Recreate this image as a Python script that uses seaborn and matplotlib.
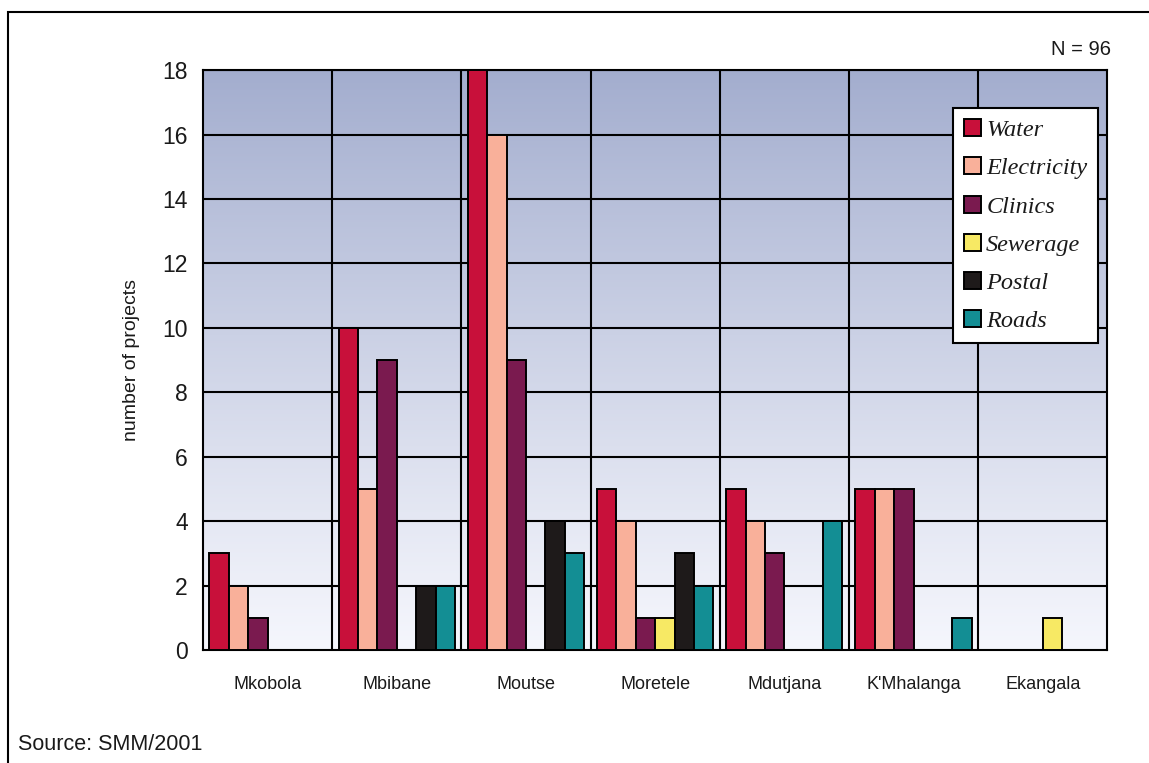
import pandas as pd
import matplotlib.pyplot as plt
import numpy as np
import seaborn as sns
from matplotlib.patches import Rectangle

districts = ['Mkobola', 'Mbibane', 'Moutse', 'Moretele', 'Mdutjana', "K'Mhalanga", 'Ekangala']
services = ['Water', 'Electricity', 'Clinics', 'Sewerage', 'Postal', 'Roads']
water = [3, 10, 18, 5, 5, 5, 0]
electricity = [2, 5, 16, 4, 4, 5, 0]
clinics = [1, 9, 9, 1, 3, 5, 0]
sewerage = [0, 0, 0, 1, 0, 0, 1]
postal = [0, 2, 4, 3, 0, 0, 0]
roads = [0, 2, 3, 2, 4, 1, 0]
service_colors = ['#c8103a', '#f9b09a', '#7a1a4f', '#f7e964', '#1e1a1a', '#138e94']

rows = []
for service, values in zip(services, [water, electricity, clinics, sewerage, postal, roads]):
    for district, value in zip(districts, values):
        rows.append({'district': district, 'service': service, 'projects': value})
project_dataset = pd.DataFrame(rows)

sns.set_style('white')
plt.rcParams['font.family'] = ['Liberation Sans', 'DejaVu Sans']
plt.rcParams['text.color'] = '#1a1a1a'
plt.rcParams['axes.labelcolor'] = '#1a1a1a'
plt.rcParams['xtick.labelcolor'] = '#1a1a1a'
plt.rcParams['ytick.labelcolor'] = '#1a1a1a'

fig = plt.figure(figsize=(11.49, 7.63), dpi=100)
ax = fig.add_axes([0.1767, 0.148, 0.787, 0.760])

# gradient background: grey-blue at top, almost white at bottom
gradient = np.linspace(0, 1, 256).reshape(-1, 1)
top_color = np.array([0.64, 0.68, 0.81])
bottom_color = np.array([0.96, 0.965, 0.99])
gradient_rgb = bottom_color + (top_color - bottom_color) * gradient[..., None] ** 1.1
gradient_rgb = gradient_rgb * np.ones((1, 2, 1))
ax.imshow(gradient_rgb, extent=[-0.5, 6.5, 0, 18], origin='lower', aspect='auto', zorder=0)

sns.barplot(data=project_dataset, x='district', y='projects', hue='service',
            order=districts, hue_order=services, palette=service_colors,
            width=0.9, gap=0.0, edgecolor='black', linewidth=1.4,
            saturation=1, ax=ax, zorder=3)

ax.set_xlim(-0.5, 6.5)
ax.set_ylim(0, 18)
ax.set_yticks(np.arange(0, 19, 2))
for y_value in np.arange(2, 19, 2):
    ax.axhline(y_value, color='black', linewidth=1.5, zorder=1)
for x_value in np.arange(0.5, 6.5, 1):
    ax.axvline(x_value, color='black', linewidth=1.5, zorder=1)

ax.set_xticks(np.arange(len(districts)))
ax.set_xticklabels(districts, fontsize=13)
ax.set_xticks(np.arange(-0.5, 7, 1), minor=True)
ax.tick_params(axis='x', which='major', length=0, pad=19)
ax.tick_params(axis='x', which='minor', length=7, width=1.5, direction='out', color='black')
ax.tick_params(axis='y', labelsize=16.5, length=7, width=1.5, direction='out', color='black', pad=4)
ax.set_xlabel('')
ax.set_ylabel('number of projects', fontsize=14, labelpad=16)
for spine in ax.spines.values():
    spine.set_color('black')
    spine.set_linewidth(1.5)

handles, labels = ax.get_legend_handles_labels()
legend = ax.legend(handles, labels, loc='upper right', bbox_to_anchor=(0.990, 0.934),
                   prop={'family': 'Liberation Serif', 'style': 'italic', 'size': 17.5},
                   frameon=True, fancybox=False, edgecolor='black', framealpha=1,
                   handlelength=0.7, handleheight=0.7, handletextpad=0.2,
                   labelspacing=0.66, borderpad=0.45, borderaxespad=0)
legend.get_frame().set_linewidth(1.5)
legend.set_zorder(5)

fig.text(0.9665, 0.935, 'N = 96', ha='right', va='center', fontsize=14.5)
fig.text(0.0157, 0.024, 'Source: SMM/2001', ha='left', va='center', fontsize=15.5)
fig.add_artist(Rectangle((0.007, -0.1), 1.5, 1.084, transform=fig.transFigure,
                         fill=False, edgecolor='black', linewidth=1.5))

plt.savefig('out.png', dpi=100)
plt.close()
